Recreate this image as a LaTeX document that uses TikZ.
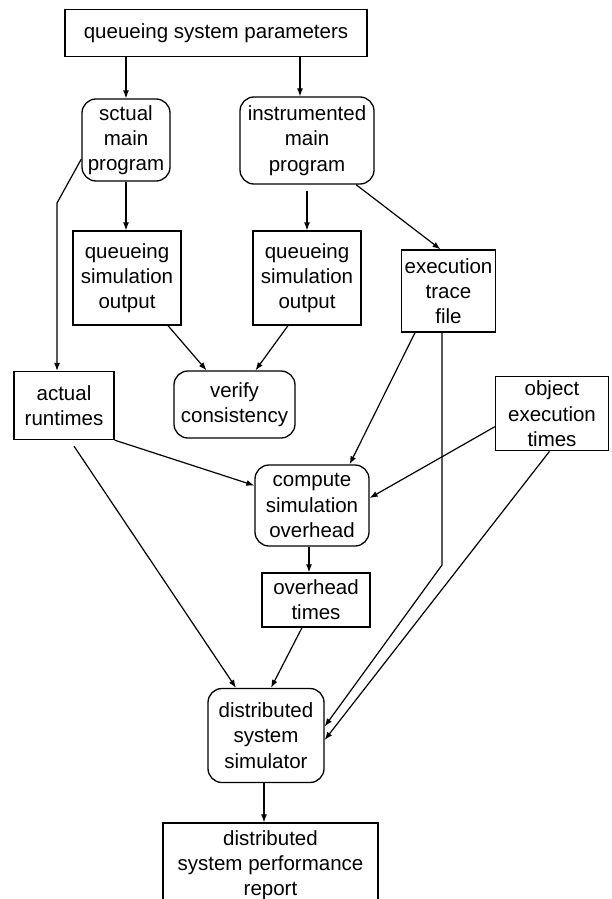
\documentclass[tikz,border=0pt]{standalone}
\usepackage{fontspec}
\setmainfont{Liberation Sans}
\usetikzlibrary{arrows.meta,calc}
\begin{document}
\begin{tikzpicture}[x=1pt,y=-1pt,
  base/.style={draw, line width=1.3pt, align=center, inner sep=0pt, font=\fontsize{20.5}{25.3}\selectfont},
  sq/.style={base},
  rnd/.style={base, rounded corners=14pt},
  arr/.style={line width=1.2pt, -{Latex[length=8pt,width=6pt]}}]
\useasboundingbox (0,0) rectangle (611,899);
\clip (0,0) rectangle (611,899);
\node[sq, minimum width=302pt, minimum height=47pt] (top) at (216,33) {queueing system parameters};
\node[rnd, minimum width=88pt, minimum height=82pt] (sct) at (126,140) {sctual\\main\\program};
\node[rnd, minimum width=134pt, minimum height=87pt] (ins) at (307,140.5) {instrumented\\main\\program};
\node[sq, minimum width=108pt, minimum height=94pt] (q1) at (127,278) {queueing\\simulation\\output};
\node[sq, minimum width=108pt, minimum height=94pt] (q2) at (307,278) {queueing\\simulation\\output};
\node[sq, minimum width=94pt, minimum height=82pt] (ex) at (448.5,291) {execution\\trace\\file};
\node[sq, minimum width=100pt, minimum height=68pt] (act) at (64,405.5) {actual\\runtimes};
\node[rnd, minimum width=121pt, minimum height=67pt] (ver) at (234.5,404.5) {verify\\consistency};
\node[sq, minimum width=113pt, minimum height=74pt] (obj) at (552,413.7) {object\\execution\\times};
\node[rnd, minimum width=114pt, minimum height=81pt] (cmp) at (312,505.5) {compute\\simulation\\overhead};
\node[sq, minimum width=108pt, minimum height=54pt] (ovh) at (316,600) {overhead\\times};
\node[rnd, minimum width=116pt, minimum height=94pt] (sim) at (266,735.5) {distributed\\system\\simulator};
\node[sq, minimum width=215pt, minimum height=84pt] (rep) at (270.5,865) {distributed\\system performance\\report};
% connectors
\coordinate (a1) at ([xshift=-7pt]ins.north);
\draw[arr] (top.south -| sct.north) -- (sct.north);
\draw[arr] (top.south -| a1) -- (a1);
\coordinate (k1) at (57,203);
\draw[arr] ([yshift=-19pt]sct.west) -- (k1) -- (k1 |- act.north);
\draw[arr] (sct.south) -- (sct.south |- q1.north);
\draw[arr] ([yshift=-6pt]ins.south) -- (ins.south |- q2.north);
\draw[arr] (ins.-42) -- ([xshift=-8pt]ex.north);
\draw[arr] ([xshift=41pt]q1.south) -- ([xshift=-28pt]ver.north);
\draw[arr] ([xshift=-19pt]q2.south) -- ([xshift=21pt]ver.north);
\draw[arr] ([xshift=-33.5pt]ex.south) -- ([xshift=37.6pt]cmp.north);
\coordinate (k2) at (442,565);
\draw[arr] (ex.south -| k2) -- (k2) -- ([yshift=9pt]sim.east);
\draw[arr] (act.south east) -- ([yshift=20pt]cmp.west);
\draw[arr] ([yshift=-13pt]obj.west) -- ([yshift=7.5pt]cmp.east);
\coordinate (c3) at ([xshift=-3pt]cmp.south);
\draw[arr] (c3) -- (c3 |- ovh.north);
\draw[arr] ([xshift=10pt,yshift=-6pt]act.south) -- ([xshift=-30pt]sim.north);
\draw[arr] ([xshift=-14pt]ovh.south) -- ([xshift=5pt]sim.north);
\draw[arr] ([xshift=-2.5pt]obj.south) -- ([yshift=-4.5pt]sim.east);
\coordinate (c4) at ([xshift=-2pt]sim.south);
\draw[arr] (c4) -- (c4 |- rep.north);
\end{tikzpicture}
\end{document}
